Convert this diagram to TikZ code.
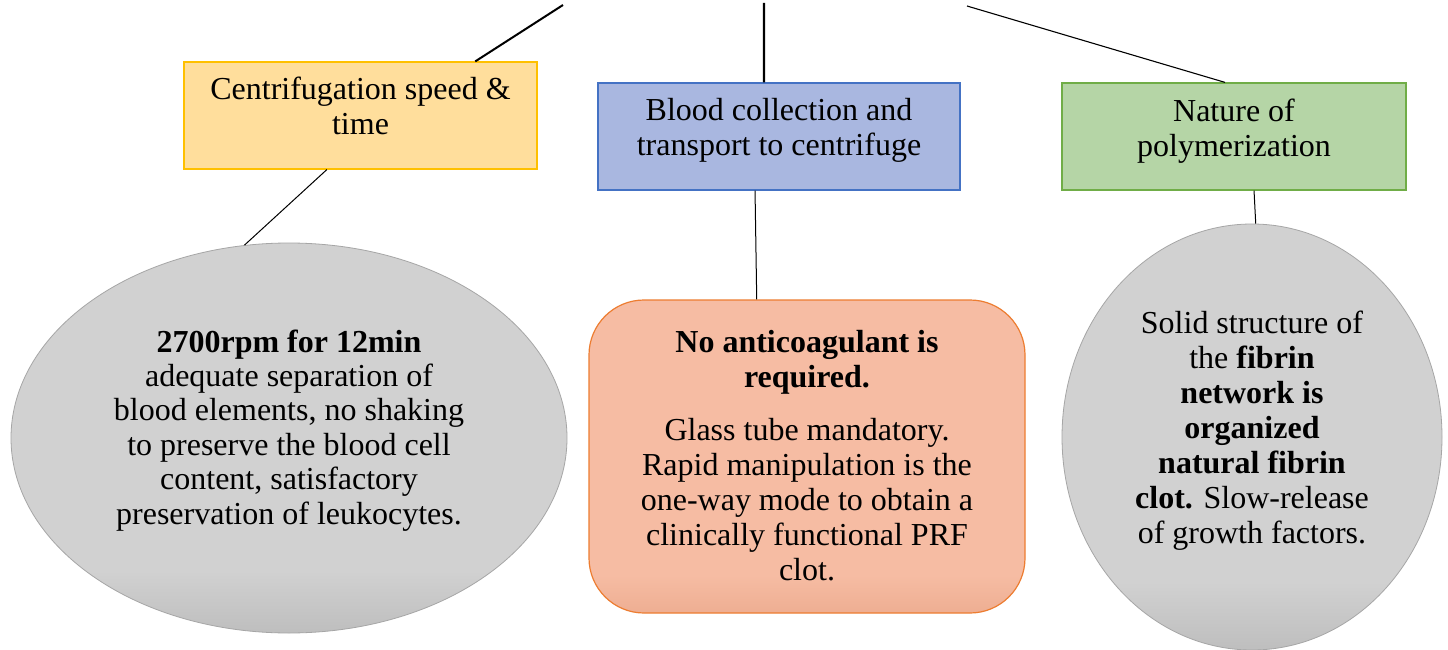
\documentclass[tikz,border=0pt]{standalone}
\usepackage{fontspec}
\setmainfont{Liberation Serif}
\usetikzlibrary{shapes.geometric,calc}

\definecolor{goldLine}{HTML}{FFC000}
\definecolor{goldFill}{HTML}{FFDE9C}
\definecolor{blueLine}{HTML}{4472C4}
\definecolor{blueFill}{HTML}{A9B7E0}
\definecolor{greenLine}{HTML}{70AD47}
\definecolor{greenFill}{HTML}{B5D5A6}
\definecolor{orangeLine}{HTML}{ED7D31}
\definecolor{orangeFill}{HTML}{F6BCA3}
\definecolor{orangeLow}{HTML}{EEAE92}
\definecolor{greyFill}{HTML}{D1D1D1}
\definecolor{greyLow}{HTML}{BEBEBE}
\definecolor{greyLine}{HTML}{A6A6A6}

% flat fill with a slightly darker band at the bottom
\pgfdeclareverticalshading{greyfade}{100bp}{color(0bp)=(greyLow); color(25bp)=(greyLow); color(33bp)=(greyFill); color(100bp)=(greyFill)}
\pgfdeclareverticalshading{orangefade}{100bp}{color(0bp)=(orangeLow); color(25bp)=(orangeLow); color(31bp)=(orangeFill); color(100bp)=(orangeFill)}

\tikzset{
  hdrbox/.style={rectangle, draw, line width=1.2pt, inner sep=0pt},
  bubble/.style={ellipse, draw=greyLine, line width=0.8pt, shade, shading=greyfade, inner sep=0pt},
  notebox/.style={rectangle, rounded corners=55pt, draw=orangeLine, line width=1.2pt, shade, shading=orangefade, inner sep=0pt},
  hdrtext/.style={anchor=base, align=center, inner sep=0pt, font=\fontsize{32}{35}\selectfont},
  bodytext/.style={anchor=base, align=center, inner sep=0pt, font=\fontsize{32}{35}\selectfont},
  leftext/.style={anchor=base, align=center, inner sep=0pt, font=\fontsize{32}{34.4}\selectfont},
  link/.style={line width=1pt},
  trunk/.style={line width=2.3pt},
}

\begin{document}
\begin{tikzpicture}[x=1pt, y=-1pt]
\useasboundingbox (0,0) rectangle (1448,650);
\fill[white] (0,0) rectangle (1448,650);

% branch points of the parent above
\coordinate (topL) at (563,5);
\coordinate (topM) at (764,3);
\coordinate (topR) at (967,6);

% heading boxes
\node[hdrbox, draw=goldLine, fill=goldFill, minimum width=353pt, minimum height=107pt] (hdr1) at (360.5,115.5) {};
\node[hdrbox, draw=blueLine, fill=blueFill, minimum width=362pt, minimum height=107pt] (hdr2) at (779,136.5) {};
\node[hdrbox, draw=greenLine, fill=greenFill, minimum width=344pt, minimum height=107pt] (hdr3) at (1234,136.5) {};

% captions: the base anchor sits on the last line
\node[hdrtext] (hdr1t) at (360.5,135) {Centrifugation speed \&\\time};
\node[hdrtext] (hdr2t) at (779,155) {Blood collection and\\transport to centrifuge};
\node[hdrtext] (hdr3t) at (1234,156.5) {Nature of\\polymerization};

% detail shapes
\node[bubble, minimum width=556pt, minimum height=390pt] (e1) at (289,438) {};
\node[notebox, minimum width=436pt, minimum height=313pt] (box2) at (807,456.5) {};
\node[bubble, minimum width=380pt, minimum height=426pt] (e2) at (1252,437) {};

\node[leftext] (e1t) at (289,524) {\textbf{2700rpm for 12min}\\adequate separation of\\blood elements, no shaking\\to preserve the blood cell\\content, satisfactory\\preservation of leukocytes.};
\node[bodytext] (box2t) at (807,580) {\textbf{No anticoagulant is}\\\textbf{required.}\\[18pt]Glass tube mandatory.\\Rapid manipulation is the\\one-way mode to obtain a\\clinically functional PRF\\clot.};
\node[bodytext] (e2t) at (1252,543) {Solid structure of\\the \textbf{fibrin}\\\textbf{network is}\\\textbf{organized}\\\textbf{natural fibrin}\\\textbf{clot.} Slow-release\\of growth factors.};

% connectors
\draw[trunk, line width=2pt] (topL) -- ($(hdr1.north west)!0.824!(hdr1.north east)$);
\draw[trunk] (topM) -- ($(hdr2.north west)!0.4586!(hdr2.north east)$);
\draw[link, line width=1.1pt] (topR) -- ($(hdr3.north west)!0.474!(hdr3.north east)$);

\draw[link] ($(hdr1.south west)!0.405!(hdr1.south east)$) -- (e1.103);
\draw[link] ($(hdr2.south west)!0.434!(hdr2.south east)$) -- ($(box2.north west)!0.385!(box2.north east)$);
\draw[link] ($(hdr3.south west)!0.558!(hdr3.south east)$) -- (e2.89.5);
\end{tikzpicture}
\end{document}
